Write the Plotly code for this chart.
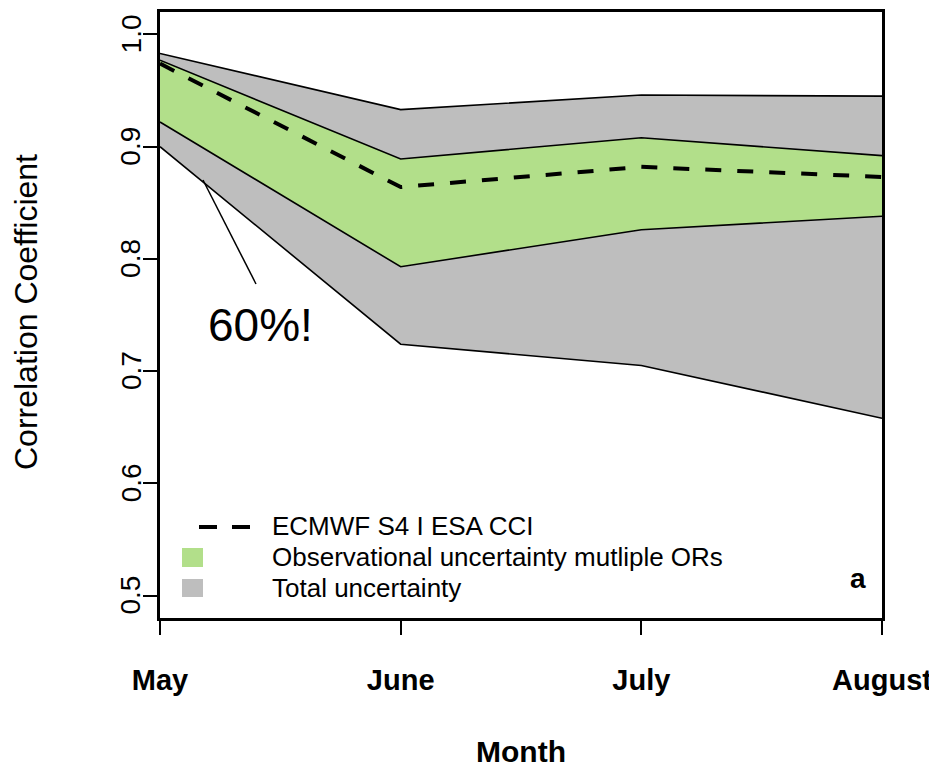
import plotly.graph_objects as go

months = ["May", "June", "July", "August"]
month_pos = [1, 2, 3, 4]
ecmwf = [0.974, 0.864, 0.882, 0.873]
obs_hi = [0.977, 0.889, 0.908, 0.892]
obs_lo = [0.922, 0.793, 0.826, 0.838]
tot_hi = [0.983, 0.933, 0.946, 0.945]
tot_lo = [0.900, 0.724, 0.705, 0.658]
y_ticks = [0.5, 0.6, 0.7, 0.8, 0.9, 1.0]
y_tick_text = ["0.5", "0.6", "0.7", "0.8", "0.9", "1.0"]

GRAY = "#BEBEBE"
GREEN = "#B2DF8A"
FONT = "Liberation Sans, Arial, Helvetica, sans-serif"

fig = go.Figure()
fig.add_trace(go.Scatter(x=month_pos, y=tot_lo, mode="lines",
                         line=dict(color="black", width=1.6), showlegend=False))
fig.add_trace(go.Scatter(x=month_pos, y=tot_hi, mode="lines", fill="tonexty",
                         fillcolor=GRAY, line=dict(color="black", width=1.6), showlegend=False))
fig.add_trace(go.Scatter(x=month_pos, y=obs_lo, mode="lines",
                         line=dict(color="black", width=1.6), showlegend=False))
fig.add_trace(go.Scatter(x=month_pos, y=obs_hi, mode="lines", fill="tonexty",
                         fillcolor=GREEN, line=dict(color="black", width=1.6), showlegend=False))
fig.add_trace(go.Scatter(x=month_pos, y=ecmwf, mode="lines",
                         line=dict(color="black", width=4, dash="16px,16px"), showlegend=False))

# page offset of the figure div (body margin)
OFF = 8
W, H = 937 - OFF, 768 - OFF
L, T = 160 - OFF, 12 - OFF
pw, ph = 722, 606
R = W - L - pw
B = H - T - ph

def px(x):
    # reference page pixel -> paper x
    return (x - OFF - L) / pw

def py(y):
    # reference page pixel -> paper y
    return (T + ph - (y - OFF)) / ph

shapes = []
# leader line for 60%!
shapes.append(dict(type="line", xref="paper", yref="paper",
                   x0=px(203), y0=py(180), x1=px(256), y1=py(284),
                   line=dict(color="black", width=1.5)))
# manual legend
for a, b in [(199, 217), (232, 250)]:
    shapes.append(dict(type="line", xref="paper", yref="paper",
                       x0=px(a), y0=py(527), x1=px(b), y1=py(527),
                       line=dict(color="black", width=4)))
shapes.append(dict(type="rect", xref="paper", yref="paper",
                   x0=px(182), x1=px(203), y0=py(567), y1=py(548),
                   fillcolor=GREEN, line=dict(width=0)))
shapes.append(dict(type="rect", xref="paper", yref="paper",
                   x0=px(182), x1=px(203), y0=py(597), y1=py(579),
                   fillcolor=GRAY, line=dict(width=0)))

legend_labels = ["ECMWF S4 I ESA CCI", "Observational uncertainty mutliple ORs", "Total uncertainty"]
legend_rows = [526, 557, 588]

annotations = []
for lab, yr in zip(legend_labels, legend_rows):
    annotations.append(dict(text=lab, xref="paper", yref="paper", x=px(270), y=py(yr),
                            xanchor="left", yanchor="middle", showarrow=False,
                            font=dict(family=FONT, size=26, color="black")))
# y tick labels, rotated
for v, t in zip(y_ticks, y_tick_text):
    annotations.append(dict(text=t, xref="paper", yref="y", x=px(131), y=v,
                            xanchor="center", yanchor="middle", showarrow=False, textangle=-90,
                            font=dict(family=FONT, size=28, color="black")))
annotations.append(dict(text="60%!", xref="paper", yref="paper", x=px(260), y=py(325),
                        xanchor="center", yanchor="middle", showarrow=False,
                        font=dict(family=FONT, size=46, color="black")))
annotations.append(dict(text="<b>a</b>", xref="paper", yref="paper", x=px(858), y=py(578),
                        xanchor="center", yanchor="middle", showarrow=False,
                        font=dict(family=FONT, size=28, color="black")))
annotations.append(dict(text="<b>Month</b>", xref="paper", yref="paper", x=px(521), y=py(751),
                        xanchor="center", yanchor="middle", showarrow=False,
                        font=dict(family=FONT, size=30, color="black")))
annotations.append(dict(text="Correlation Coefficient", xref="paper", yref="paper", x=px(26), y=py(312),
                        xanchor="center", yanchor="middle", showarrow=False, textangle=-90,
                        font=dict(family=FONT, size=32, color="black")))

fig.update_layout(
    width=W, height=H,
    margin=dict(l=L, r=R, t=T, b=B, pad=0, autoexpand=False),
    paper_bgcolor="white", plot_bgcolor="white",
    shapes=shapes, annotations=annotations,
    showlegend=False,
    font=dict(family=FONT, color="black"),
)
fig.update_xaxes(range=[1, 4], tickvals=month_pos, ticktext=["<b>%s</b>" % m for m in months],
                 showgrid=False, zeroline=False, showline=True, mirror=True,
                 linecolor="black", linewidth=2.5, ticks="outside", ticklen=14,
                 tickwidth=2, tickcolor="black", tickfont=dict(family=FONT, size=29),
                 ticklabelstandoff=20)
fig.update_yaxes(range=[0.48, 1.02], tickvals=y_ticks, showticklabels=False,
                 showgrid=False, zeroline=False, showline=True, mirror=True,
                 linecolor="black", linewidth=2.5, ticks="outside", ticklen=14,
                 tickwidth=2, tickcolor="black")

fig.write_html("out.html")
